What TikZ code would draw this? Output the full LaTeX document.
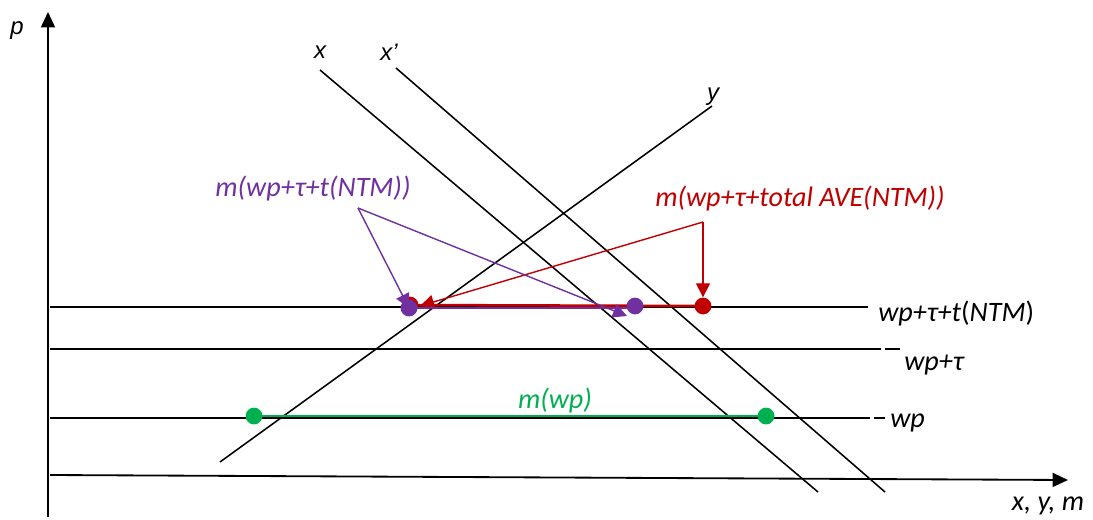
\documentclass[tikz,border=0pt]{standalone}
\usepackage{fontspec}
\setmainfont{Carlito}
\newfontfamily\arialf{Liberation Sans}
\usetikzlibrary{arrows.meta}
\definecolor{pur}{HTML}{7030A0}
\definecolor{rd}{HTML}{C00000}
\definecolor{grn}{HTML}{00B050}
\begin{document}
\begin{tikzpicture}[x=0.025cm,y=-0.025cm,
  blk/.style={line width=1.1pt,black},
  axisline/.style={line width=1.3pt,-{Triangle[length=11pt,width=10pt]}},
  lab/.style={font=\fontsize{20}{24}\selectfont\itshape,inner sep=0pt},
  alab/.style={font=\arialf\fontsize{17}{20}\selectfont\itshape,inner sep=0pt},
  dot/.style={circle,fill=#1,inner sep=0pt,minimum size=0.42cm},
  tip/.style={-{Triangle[length=10pt,width=10pt]}},
  ]
\useasboundingbox (0,0) rectangle (1093,520);
% axes
\coordinate (pb) at (48,517);
\coordinate (ptop) at (48,12);
\draw[axisline] (pb) -- (ptop);
\coordinate (xa0) at (50,475);
\coordinate (xa1) at (1068,480);
\draw[axisline] (xa0) -- (xa1);
\node[alab] (plab) at (17,31) {p};
\node[lab] (xlab) at (1048,506) {x, y, m};
% horizontal price lines
\coordinate (h1a) at (50,307); \coordinate (h1b) at (868,307);
\draw[blk] (h1a) -- (h1b);
\node[lab,anchor=west,font=\fontsize{20}{24}\selectfont] (h1lab) at (878,313) {\itshape wp+τ+t\upshape(\itshape NTM\upshape)};
\coordinate (h2a) at (50,349); \coordinate (h2b) at (881,349);
\coordinate (h2c) at (885,349); \coordinate (h2d) at (900,349);
\draw[blk] (h2a) -- (h2b);
\draw[blk] (h2c) -- (h2d);
\node[lab,anchor=west] (h2lab) at (904,365) {wp+τ};
\coordinate (h3a) at (50,418); \coordinate (h3b) at (870,418);
\coordinate (h3c) at (874,418); \coordinate (h3d) at (885,418);
\draw[blk] (h3a) -- (h3b);
\draw[blk] (h3c) -- (h3d);
\node[lab,anchor=west] (h3lab) at (890,423) {wp};
% supply / demand curves
\coordinate (xs) at (320,70); \coordinate (xe) at (818,492);
\coordinate (x2s) at (396,68); \coordinate (x2e) at (885,492);
\coordinate (ys) at (220,462); \coordinate (ye) at (712,106);
\draw[blk] (xs) -- (xe);
\draw[blk] (x2s) -- (x2e);
\draw[blk] (ys) -- (ye);
\node[alab] (xl) at (320,52) {x};
\node[alab] (x2l) at (389,52) {x’};
\node[alab] (yl) at (713,97) {y};
% green m(wp)
\node[dot=grn] (gA) at (254,416) {};
\node[dot=grn] (gB) at (766,416) {};
\draw[grn,line width=1.8pt] (gA.center) -- (gB.center);
\node[lab,text=grn] (glab) at (555,400) {m(wp)};
% red
\coordinate (rc) at (703,222);
\node[dot=rd] (rA) at (410,305) {};
\node[dot=rd] (rB) at (703,306) {};
\draw[rd,line width=1.8pt] (rA.center) -- (rB.center);
\draw[rd,line width=1pt,tip] (rc) -- (rB.north);
\draw[rd,line width=1pt,tip] (rc) -- (420,306);
\node[lab,text=rd] (rlab) at (800,198) {m(wp+τ+total AVE(NTM))};
% purple
\coordinate (pc) at (358,208);
\node[dot=pur] (pA) at (409,308) {};
\node[dot=pur] (pB) at (635,306) {};
\draw[pur,line width=1.8pt] (pA.center) -- (pB.center |- pA.center);
\draw[pur,line width=1pt,tip] (pc) -- (pA.center);
\draw[pur,line width=1pt,tip] (pc) -- (627,316);
\node[lab,text=pur] (plab2) at (313,188) {m(wp+τ+t(NTM))};
\end{tikzpicture}
\end{document}
